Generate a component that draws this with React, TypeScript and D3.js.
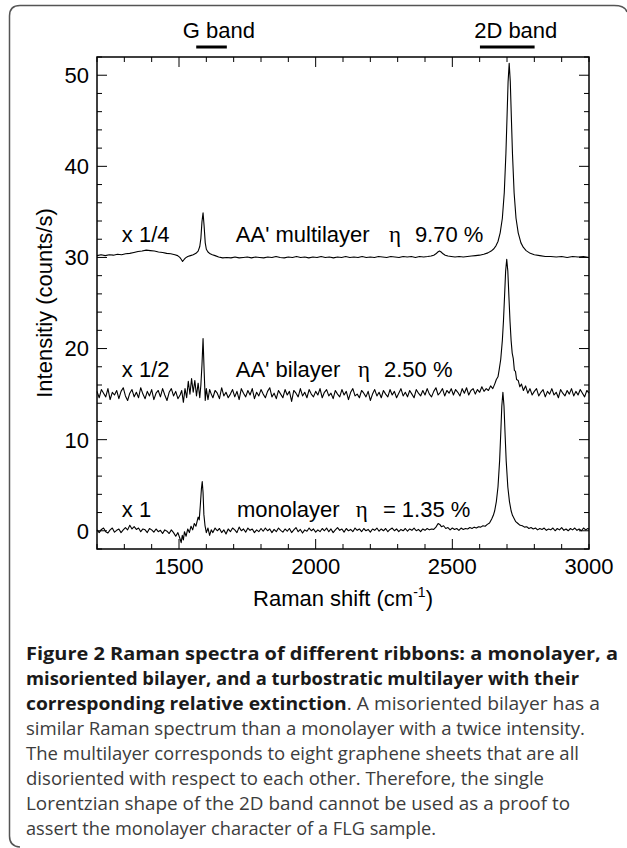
import * as d3 from 'd3';

// Raman shift (cm-1) / intensity (counts/s) pairs (offsets already applied)
const monolayer: [number, number][] = [
  [1200, 0.1], [1208, -0.2], [1216, 0.15], [1224, 0.3], [1232, -0.1], [1240, -0.25], [1248, 0.1], [1256, 0.3], [1264, -0.15], [1272, 0.05],
  [1280, 0.2], [1288, -0.2], [1296, 0.1], [1304, 0.35], [1312, 0.1], [1320, 0.6], [1328, 0.2], [1336, 0.45], [1344, 0.15], [1352, 0.3],
  [1360, -0.1], [1368, 0.2], [1376, 0.1], [1384, -0.2], [1392, 0.25], [1400, 0.1], [1408, -0.15], [1416, 0.2], [1424, -0.1], [1432, 0.05],
  [1440, -0.3], [1448, 0.1], [1456, -0.05], [1464, -0.3], [1472, 0.1], [1480, -0.2], [1488, -0.6], [1496, -0.2], [1504, -0.9], [1508, -1.3],
  [1512, -0.5], [1516, -1.0], [1520, -0.1], [1526, -0.6], [1532, 0.2], [1538, -0.2], [1544, 0.5], [1550, 0.1], [1556, 0.8], [1562, 0.5],
  [1566, 1.0], [1570, 1.5], [1574, 1.2], [1578, 2.8], [1582, 4.6], [1585, 5.4], [1588, 4.2], [1591, 1.8], [1595, 0.6], [1600, -0.2],
  [1606, 0.3], [1612, -0.5], [1618, 0.1], [1624, -0.2], [1632, 0.3], [1640, 0.0], [1648, 0.25], [1656, -0.2], [1664, 0.1], [1672, -0.35],
  [1680, 0.2], [1688, -0.1], [1696, 0.3], [1704, 0.1], [1712, -0.2], [1720, 0.4], [1728, 0.0], [1736, 0.2], [1744, -0.15], [1752, 0.3],
  [1760, 0.05], [1768, 0.2], [1776, -0.2], [1784, 0.1], [1792, -0.1], [1800, 0.25], [1808, -0.05], [1816, 0.3], [1824, 0.0], [1832, 0.2],
  [1840, -0.2], [1848, 0.15], [1856, -0.1], [1864, 0.3], [1872, 0.05], [1880, -0.15], [1888, 0.2], [1896, -0.05], [1904, 0.25], [1912, -0.2],
  [1920, 0.1], [1928, 0.35], [1936, -0.1], [1944, 0.15], [1952, -0.25], [1960, 0.1], [1968, -0.05], [1976, 0.3], [1984, 0.0], [1992, 0.2],
  [2000, -0.15], [2008, 0.1], [2016, -0.1], [2024, 0.25], [2032, 0.0], [2040, 0.3], [2048, -0.1], [2056, 0.2], [2064, -0.2], [2072, 0.1],
  [2080, 0.35], [2088, 0.05], [2096, 0.2], [2104, -0.15], [2112, 0.25], [2120, 0.0], [2128, 0.15], [2136, -0.1], [2144, 0.3], [2152, 0.05],
  [2160, 0.2], [2168, -0.1], [2176, 0.25], [2184, 0.0], [2192, 0.15], [2200, -0.15], [2208, 0.2], [2216, 0.05], [2224, 0.3], [2232, -0.05],
  [2240, 0.2], [2248, 0.0], [2256, 0.25], [2264, -0.1], [2272, 0.15], [2280, 0.3], [2288, 0.0], [2296, 0.2], [2304, -0.1], [2312, 0.15],
  [2320, 0.0], [2328, 0.25], [2336, -0.05], [2344, 0.2], [2352, 0.05], [2360, 0.3], [2368, 0.0], [2376, 0.15], [2384, -0.1], [2392, 0.2],
  [2400, 0.05], [2408, 0.25], [2416, 0.1], [2424, 0.2], [2432, 0.15], [2440, 0.4], [2448, 0.8], [2454, 0.7], [2460, 0.45], [2468, 0.55],
  [2476, 0.25], [2484, 0.35], [2492, 0.1], [2500, 0.3], [2508, 0.15], [2516, 0.25], [2524, 0.05], [2532, 0.3], [2540, 0.15], [2548, 0.25],
  [2556, 0.2], [2564, 0.35], [2572, 0.25], [2580, 0.4], [2588, 0.3], [2596, 0.45], [2604, 0.4], [2612, 0.55], [2620, 0.5], [2628, 0.7],
  [2636, 0.85], [2644, 1.3], [2650, 1.7], [2655, 2.2], [2661, 3.2], [2667, 4.8], [2673, 7.7], [2677, 10.6], [2681, 13.7], [2685, 15.2],
  [2689, 13.7], [2693, 10.6], [2697, 7.7], [2703, 4.8], [2709, 3.2], [2715, 2.2], [2720, 1.7], [2726, 1.35], [2732, 1.0], [2740, 0.8],
  [2748, 0.6], [2756, 0.55], [2764, 0.4], [2772, 0.45], [2780, 0.25], [2788, 0.35], [2796, 0.2], [2804, 0.3], [2812, 0.1], [2820, 0.25],
  [2828, 0.15], [2836, 0.3], [2844, 0.05], [2852, 0.2], [2860, 0.1], [2868, 0.3], [2876, 0.0], [2884, 0.25], [2892, 0.1], [2900, 0.35],
  [2908, 0.05], [2916, 0.2], [2924, 0.0], [2932, 0.25], [2940, 0.1], [2948, 0.3], [2956, 0.05], [2964, 0.2], [2972, 0.0], [2980, 0.3],
  [2988, 0.1], [2996, 0.25], [3000, 0.15],
];

const bilayer: [number, number][] = [
  [1200, 15.3], [1208, 14.6], [1216, 15.5], [1224, 15.1], [1232, 14.7], [1240, 15.6], [1248, 14.4], [1256, 15.2], [1264, 14.9], [1272, 15.4],
  [1280, 14.5], [1288, 15.3], [1296, 15.7], [1304, 14.8], [1312, 14.3], [1320, 15.1], [1328, 15.5], [1336, 14.7], [1344, 15.2], [1352, 14.6],
  [1360, 15.7], [1368, 15.0], [1376, 14.5], [1384, 15.3], [1392, 14.8], [1400, 15.5], [1408, 14.4], [1416, 15.1], [1424, 15.4], [1432, 14.7],
  [1440, 15.6], [1448, 14.9], [1456, 14.3], [1464, 15.2], [1472, 15.6], [1480, 14.8], [1488, 15.3], [1496, 14.5], [1504, 14.9], [1510, 15.4],
  [1516, 14.1], [1522, 15.6], [1528, 14.6], [1534, 16.4], [1540, 15.0], [1546, 16.7], [1552, 15.2], [1558, 16.5], [1564, 14.8], [1570, 16.2],
  [1576, 14.6], [1580, 16.0], [1584, 18.2], [1588, 21.1], [1592, 17.5], [1596, 14.3], [1600, 15.6], [1606, 14.4], [1612, 15.5], [1618, 15.0],
  [1624, 14.6], [1632, 15.4], [1640, 15.1], [1648, 14.5], [1656, 15.7], [1664, 14.8], [1672, 15.2], [1680, 14.6], [1688, 15.0], [1696, 15.5],
  [1704, 14.7], [1712, 15.3], [1720, 14.4], [1728, 15.6], [1736, 15.1], [1744, 14.7], [1752, 15.4], [1760, 14.9], [1768, 15.6], [1776, 14.5],
  [1784, 15.2], [1792, 14.8], [1800, 15.5], [1808, 15.0], [1816, 14.6], [1824, 15.3], [1832, 15.7], [1840, 14.7], [1848, 15.1], [1856, 14.5],
  [1864, 15.4], [1872, 15.0], [1880, 14.6], [1888, 15.5], [1896, 14.9], [1904, 15.3], [1912, 14.2], [1920, 15.4], [1928, 15.1], [1936, 14.7],
  [1944, 15.6], [1952, 14.8], [1960, 15.2], [1968, 14.6], [1976, 15.5], [1984, 15.0], [1992, 14.7], [2000, 15.3], [2008, 14.9], [2016, 15.6],
  [2024, 14.6], [2032, 15.2], [2040, 15.5], [2048, 14.8], [2056, 15.1], [2064, 14.5], [2072, 15.4], [2080, 15.0], [2088, 14.7], [2096, 15.5],
  [2104, 14.9], [2112, 15.3], [2120, 14.4], [2128, 15.2], [2136, 15.6], [2144, 14.8], [2152, 15.0], [2160, 14.6], [2168, 15.4], [2176, 15.1],
  [2184, 14.7], [2192, 15.3], [2200, 14.3], [2208, 15.0], [2216, 15.5], [2224, 14.8], [2232, 15.2], [2240, 14.6], [2248, 15.4], [2256, 15.0],
  [2264, 14.7], [2272, 15.5], [2280, 14.9], [2288, 15.3], [2296, 14.6], [2304, 15.1], [2312, 15.6], [2320, 14.8], [2328, 15.2], [2336, 14.7],
  [2344, 15.4], [2352, 15.0], [2360, 14.6], [2368, 15.5], [2376, 15.1], [2384, 14.8], [2392, 15.4], [2400, 14.9], [2408, 15.6], [2416, 15.0],
  [2424, 14.7], [2432, 15.3], [2440, 15.7], [2448, 14.9], [2456, 15.2], [2464, 15.6], [2472, 14.8], [2480, 15.4], [2488, 15.1], [2496, 15.6],
  [2504, 14.9], [2512, 15.5], [2520, 15.2], [2528, 14.8], [2536, 15.6], [2544, 15.1], [2552, 15.7], [2560, 14.9], [2568, 15.4], [2576, 15.6],
  [2584, 15.0], [2592, 15.5], [2600, 15.2], [2608, 15.8], [2616, 15.3], [2624, 15.6], [2632, 15.4], [2640, 15.9], [2648, 15.6], [2655, 16.1],
  [2661, 16.6], [2667, 16.9], [2671, 17.6], [2677, 18.8], [2683, 20.9], [2687, 23.0], [2691, 25.7], [2695, 28.5], [2699, 29.8], [2703, 28.5],
  [2707, 25.7], [2711, 23.0], [2715, 20.9], [2719, 19.5], [2723, 18.9], [2727, 17.6], [2731, 17.5], [2735, 16.6], [2741, 16.5], [2747, 15.8],
  [2753, 16.1], [2760, 15.4], [2768, 15.9], [2776, 15.1], [2784, 15.6], [2792, 14.9], [2800, 15.3], [2808, 15.6], [2816, 14.8], [2824, 15.2],
  [2832, 15.5], [2840, 14.7], [2848, 15.3], [2856, 15.0], [2864, 15.6], [2872, 14.9], [2880, 15.2], [2888, 14.6], [2896, 15.5], [2904, 15.1],
  [2912, 14.8], [2920, 15.4], [2928, 15.0], [2936, 15.6], [2944, 14.8], [2952, 15.3], [2960, 14.9], [2968, 15.5], [2976, 15.1], [2984, 14.7],
  [2992, 15.4], [3000, 15.1],
];

const multilayer: [number, number][] = [
  [1200, 30.2], [1215, 30.3], [1230, 30.2], [1245, 30.3], [1260, 30.25], [1275, 30.35], [1290, 30.3], [1305, 30.4], [1320, 30.45], [1335, 30.55],
  [1350, 30.65], [1365, 30.7], [1380, 30.8], [1395, 30.75], [1410, 30.7], [1425, 30.6], [1440, 30.55], [1455, 30.45], [1470, 30.4], [1485, 30.3],
  [1495, 30.2], [1503, 30.0], [1508, 29.8], [1513, 29.55], [1518, 29.75], [1524, 29.95], [1532, 30.1], [1542, 30.2], [1552, 30.3], [1562, 30.45],
  [1570, 30.7], [1576, 31.2], [1580, 32.1], [1584, 33.9], [1588, 34.9], [1592, 33.4], [1596, 31.6], [1600, 30.9], [1606, 30.6], [1614, 30.4],
  [1622, 30.3], [1632, 30.2], [1645, 30.05], [1660, 29.95], [1675, 30.0], [1690, 29.95], [1705, 30.05], [1720, 29.95], [1735, 30.0], [1750, 30.05],
  [1765, 29.95], [1780, 30.05], [1795, 30.0], [1810, 29.95], [1825, 30.05], [1840, 30.0], [1855, 30.1], [1870, 30.0], [1885, 29.95], [1900, 30.05],
  [1915, 30.0], [1930, 30.1], [1945, 30.0], [1960, 30.05], [1975, 29.95], [1990, 30.05], [2005, 30.0], [2020, 30.1], [2035, 30.0], [2050, 30.05],
  [2065, 29.95], [2080, 30.05], [2095, 30.0], [2110, 30.1], [2125, 30.0], [2140, 30.05], [2155, 30.0], [2170, 30.1], [2185, 30.0], [2200, 30.05],
  [2215, 30.0], [2230, 30.1], [2245, 30.05], [2260, 30.0], [2275, 30.1], [2290, 30.05], [2305, 30.0], [2320, 30.1], [2335, 30.05], [2350, 30.1],
  [2365, 30.0], [2380, 30.1], [2395, 30.05], [2410, 30.1], [2422, 30.15], [2432, 30.25], [2440, 30.4], [2447, 30.6], [2453, 30.7], [2459, 30.6],
  [2466, 30.4], [2474, 30.25], [2484, 30.15], [2496, 30.1], [2510, 30.05], [2525, 30.1], [2540, 30.05], [2555, 30.1], [2570, 30.15], [2585, 30.2],
  [2600, 30.25], [2615, 30.35], [2630, 30.5], [2642, 30.7], [2652, 30.95], [2660, 31.3], [2667, 31.75], [2675, 32.7], [2683, 34.3], [2690, 37.1],
  [2696, 41.4], [2700, 45.3], [2704, 49.3], [2708, 51.3], [2712, 49.3], [2716, 45.3], [2720, 41.4], [2726, 37.1], [2733, 34.3], [2741, 32.7],
  [2751, 31.6], [2760, 31.1], [2770, 30.75], [2785, 30.45], [2800, 30.3], [2820, 30.2], [2840, 30.1], [2860, 30.1], [2880, 30.05], [2900, 30.1],
  [2920, 30.0], [2940, 30.1], [2960, 30.05], [2980, 30.1], [3000, 30.0],
];

const shiftDomain: [number, number] = [1200, 3000];
const intensityDomain: [number, number] = [-2, 52];
const shiftLabels = [1500, 2000, 2500, 3000];
const intensityLabels = [0, 10, 20, 30, 40, 50];

// band markers above the frame (cm-1)
const bands = [
  { label: 'G band', from: 1563, to: 1675, labelAt: 1646 },
  { label: '2D band', from: 2601, to: 2801, labelAt: 2732 },
];

// trace annotations, placed in data units (shift, intensity)
const annotations = [
  { factor: 'x 1/4', sample: "AA' multilayer", eta: '9.70 %', level: 31.7, sampleAt: 1708, etaAt: 2268, valueAt: 2363 },
  { factor: 'x 1/2', sample: "AA' bilayer", eta: '2.50 %', level: 16.9, sampleAt: 1708, etaAt: 2155, valueAt: 2250 },
  { factor: 'x 1', sample: 'monolayer', eta: '= 1.35 %', level: 1.5, sampleAt: 1712, etaAt: 2147, valueAt: 2246 },
];

const captionLines = [
  { parts: [{ t: 'Figure 2 Raman spectra of different ribbons: a monolayer, a', bold: true }], w: 592 },
  { parts: [{ t: 'misoriented bilayer, and a turbostratic multilayer with their', bold: true }], w: 553 },
  {
    parts: [
      { t: 'corresponding relative extinction', bold: true },
      { t: '. A misoriented bilayer has a', bold: false },
    ],
    w: 574,
  },
  { parts: [{ t: 'similar Raman spectrum than a monolayer with a twice intensity.', bold: false }], w: 559 },
  { parts: [{ t: 'The multilayer corresponds to eight graphene sheets that are all', bold: false }], w: 553 },
  { parts: [{ t: 'disoriented with respect to each other. Therefore, the single', bold: false }], w: 518 },
  { parts: [{ t: 'Lorentzian shape of the 2D band cannot be used as a proof to', bold: false }], w: 544 },
  { parts: [{ t: 'assert the monolayer character of a FLG sample.', bold: false }], w: 410 },
];

const W = 627;
const H = 848;
const frame = { left: 97, right: 589, top: 57, bottom: 549 };
const sans = "'Liberation Sans', Arial, Helvetica, sans-serif";

export default function App() {
  const x = d3.scaleLinear().domain(shiftDomain).range([frame.left, frame.right]);
  const y = d3.scaleLinear().domain(intensityDomain).range([frame.bottom, frame.top]);

  const line = d3
    .line<[number, number]>()
    .x((d) => x(d[0]))
    .y((d) => y(d[1]));

  const xMinor = x.ticks(18);
  const yMinor = y.ticks(27);
  const xMajor = [1500, 2000, 2500];

  return (
    <svg
      width={W}
      height={H}
      viewBox={`0 0 ${W} ${H}`}
      style={{ position: 'absolute', left: 0, top: 0, background: '#fff' }}
    >
      {/* outer figure box */}
      <path
        d="M 627 12 Q 625 5.5 614 5.5 L 20 5.5 Q 9.5 5.5 9.5 16 L 9.5 836 Q 9.5 846.5 20 847"
        fill="none"
        stroke="#555"
        strokeWidth={1.5}
      />

      {/* band markers */}
      {bands.map((b) => (
        <g key={b.label}>
          <text x={x(b.labelAt)} y={38} textAnchor="middle" fontFamily={sans} fontSize={22} fill="#000">
            {b.label}
          </text>
          <line x1={x(b.from)} x2={x(b.to)} y1={47} y2={47} stroke="#000" strokeWidth={3} />
        </g>
      ))}

      {/* ticks on all four sides, pointing inward */}
      <g stroke="#000" strokeWidth={1}>
        {xMinor.map((t) => {
          const len = xMajor.includes(t) ? 10 : 5;
          return (
            <g key={`xt${t}`}>
              <line x1={x(t)} x2={x(t)} y1={frame.bottom} y2={frame.bottom - len} />
              <line x1={x(t)} x2={x(t)} y1={frame.top} y2={frame.top + len} />
            </g>
          );
        })}
        {yMinor.map((t) => {
          const len = t % 10 === 0 ? 10 : 5;
          return (
            <g key={`yt${t}`}>
              <line x1={frame.left} x2={frame.left + len} y1={y(t)} y2={y(t)} />
              <line x1={frame.right} x2={frame.right - len} y1={y(t)} y2={y(t)} />
            </g>
          );
        })}
      </g>

      {/* tick labels */}
      {shiftLabels.map((t) => (
        <text key={`xl${t}`} x={x(t)} y={574} textAnchor="middle" fontFamily={sans} fontSize={22}>
          {t}
        </text>
      ))}
      {intensityLabels.map((t) => (
        <text key={`yl${t}`} x={frame.left - 8} y={y(t)} dy="0.36em" textAnchor="end" fontFamily={sans} fontSize={22}>
          {t}
        </text>
      ))}

      {/* axis titles */}
      <text
        transform={`translate(52, ${(frame.top + frame.bottom) / 2}) rotate(-90)`}
        textAnchor="middle"
        fontFamily={sans}
        fontSize={22}
      >
        Intensitiy (counts/s)
      </text>
      <text x={(frame.left + frame.right) / 2} y={606} textAnchor="middle" fontFamily={sans} fontSize={22}>
        Raman shift (cm
        <tspan dy={-9} fontSize={14}>
          -1
        </tspan>
        <tspan dy={9}>)</tspan>
      </text>

      {/* spectra */}
      {[multilayer, bilayer, monolayer].map((s, i) => (
        <path key={i} d={line(s) ?? ''} fill="none" stroke="#000" strokeWidth={1.1} strokeLinejoin="round" />
      ))}

      {/* annotations */}
      {annotations.map((a) => (
        <g key={a.factor} fontFamily={sans} fontSize={22} fill="#000">
          <text x={x(1291)} y={y(a.level)}>
            {a.factor}
          </text>
          <text x={x(a.sampleAt)} y={y(a.level)}>
            {a.sample}
          </text>
          <text x={x(a.etaAt)} y={y(a.level)} fontFamily="'Liberation Serif', 'Times New Roman', serif" fontSize={23}>
            η
          </text>
          <text x={x(a.valueAt)} y={y(a.level)}>
            {a.eta}
          </text>
        </g>
      ))}

      {/* frame */}
      <rect
        x={frame.left}
        y={frame.top}
        width={frame.right - frame.left}
        height={frame.bottom - frame.top}
        fill="none"
        stroke="#000"
        strokeWidth={1.5}
      />

      {/* caption */}
      {captionLines.map((ln, i) => (
        <text
          key={i}
          x={26}
          y={660 + i * 25}
          fontFamily="'Open Sans', 'Noto Sans', sans-serif"
          fontSize={18}
          textLength={ln.w}
          lengthAdjust="spacingAndGlyphs"
        >
          {ln.parts.map((p, j) => (
            <tspan key={j} fontWeight={p.bold ? 700 : 400} fill={p.bold ? '#1a1a1a' : '#3c3c3c'}>
              {p.t}
            </tspan>
          ))}
        </text>
      ))}
    </svg>
  );
}
